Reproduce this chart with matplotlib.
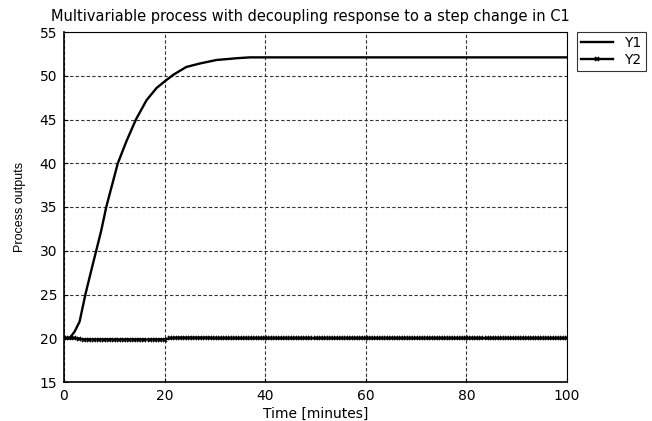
import matplotlib.pyplot as plt

plt.rcParams['font.family'] = ['DejaVu Sans']

# Y1 (time in minutes)
t1 = [0, 1.1, 2.1, 3.1, 4.25, 5.4, 6.4, 7.4, 8.4, 10.7, 12.4, 14.3, 16.4,
      18.4, 19.9, 21.7, 24.3, 27, 30.3, 34.3, 36.9, 40, 50, 60, 70, 80, 90, 100]
y1 = [20.0, 20.0, 20.75, 21.9, 25.0, 27.7, 30.0, 32.3, 35.0, 40.0, 42.5, 45.0, 47.2,
      48.6, 49.3, 50.1, 51.0, 51.4, 51.8, 52.0, 52.1, 52.1, 52.1, 52.1, 52.1, 52.1, 52.1, 52.1]

# Y2 sampled every minute
t2 = list(range(101))
y2 = [20.0, 20.0, 20.0, 19.95, 19.85, 19.85, 19.85, 19.85, 19.85, 19.85,
      19.85, 19.85, 19.85, 19.85, 19.85, 19.85, 19.85, 19.85, 19.85, 19.85,
      19.85, 20.0, 20.05, 20.05, 20.05, 20.05, 20.05, 20.05, 20.05, 20.05,
      20.0, 20.0, 20.0, 20.0, 20.0, 20.0, 20.0, 20.0, 20.0, 20.0,
      20.0, 20.0, 20.0, 20.0, 20.0, 20.0, 20.0, 20.0, 20.0, 20.0,
      20.0, 20.0, 20.0, 20.0, 20.0, 20.0, 20.0, 20.0, 20.0, 20.0,
      20.0, 20.0, 20.0, 20.0, 20.0, 20.0, 20.0, 20.0, 20.0, 20.0,
      20.0, 20.0, 20.0, 20.0, 20.0, 20.0, 20.0, 20.0, 20.0, 20.0,
      20.0, 20.0, 20.0, 20.0, 20.0, 20.0, 20.0, 20.0, 20.0, 20.0,
      20.0, 20.0, 20.0, 20.0, 20.0, 20.0, 20.0, 20.0, 20.0, 20.0, 20.0]

fig = plt.figure(figsize=(6.52, 4.21), dpi=100)
ax = fig.add_axes([64 / 652, 1 - 382 / 421, 503 / 652, 350 / 421])

ax.plot(t1, y1, color='black', lw=1.7, label='Y1')
ax.plot(t2, y2, color='black', lw=1.7, marker='x', ms=3.5, mew=1.2, label='Y2')

ax.set_xlim(0, 100)
ax.set_ylim(15, 55)
ax.set_xticks([0, 20, 40, 60, 80, 100])
ax.set_yticks([15, 20, 25, 30, 35, 40, 45, 50, 55])
ax.grid(True, color='#333333', lw=0.8, linestyle=(0, (3, 2)))
ax.tick_params(direction='in', length=3, labelsize=10, pad=5)

for s in ax.spines.values():
    s.set_linewidth(0.8)
ax.spines['left'].set_linewidth(1.2)
ax.spines['bottom'].set_linewidth(1.2)

ax.set_title('Multivariable process with decoupling response to a step change in C1',
             fontsize=10.5, pad=8, x=0.49)
ax.set_xlabel('Time [minutes]', fontsize=10, labelpad=3)
ax.set_ylabel('Process outputs', fontsize=9, labelpad=10,
              family=['Liberation Sans Narrow', 'Liberation Sans'])

leg = ax.legend(loc='upper left', bbox_to_anchor=(1.02, 1.0), borderaxespad=0,
                fontsize=10, frameon=True, fancybox=False, edgecolor='black',
                handlelength=2.3, borderpad=0.3, labelspacing=0.2, handletextpad=0.8)
leg.get_frame().set_linewidth(0.8)

fig.savefig('out.png', dpi=100)
